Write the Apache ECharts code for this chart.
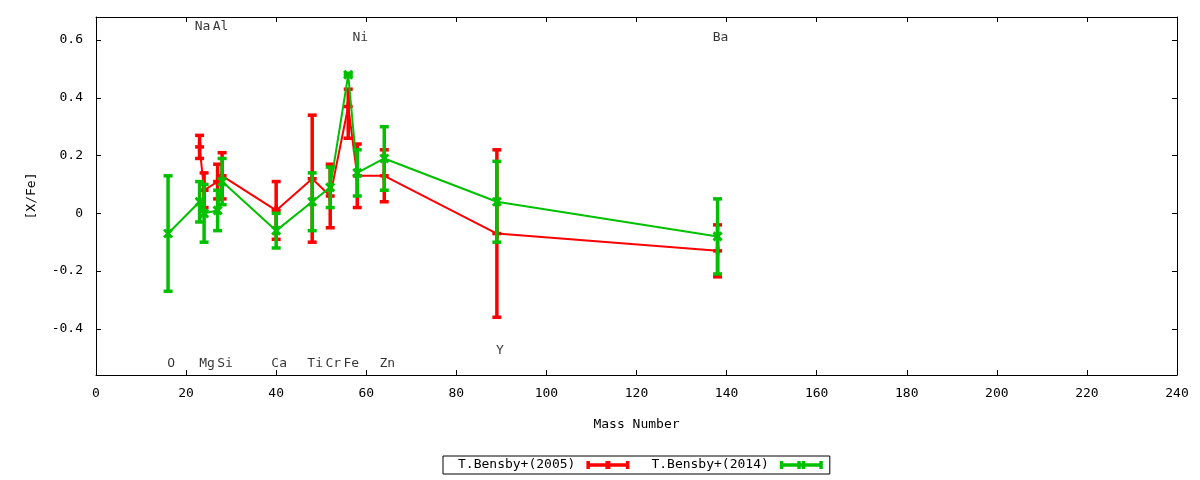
<!DOCTYPE html>
<html><head><meta charset="utf-8">
<script src="https://cdn.jsdelivr.net/npm/echarts@6/dist/echarts.min.js"></script>
<style>html,body{margin:0;padding:0;background:#fff}#c{width:1200px;height:480px}</style>
</head><body><div id="c"></div>
<script>
const FONT = 'DejaVu Sans Mono';

// Axis ticks
const yTickValues = [-0.4, -0.2, 0, 0.2, 0.4, 0.6];

// T.Bensby+(2005)
const mass2005 = [23, 24, 27, 28, 40, 48, 52, 56, 58, 64, 89, 138];
const val2005  = [0.23, 0.08, 0.11, 0.13, 0.01, 0.12, 0.06, 0.37, 0.13, 0.13, -0.07, -0.13];
const low2005  = [0.19, 0.02, 0.05, 0.05, -0.09, -0.10, -0.05, 0.26, 0.02, 0.04, -0.36, -0.22];
const high2005 = [0.27, 0.14, 0.17, 0.21, 0.11, 0.34, 0.17, 0.43, 0.24, 0.22, 0.22, -0.04];

// T.Bensby+(2014)
const mass2014 = [16, 23, 24, 27, 28, 40, 48, 52, 56, 58, 64, 89, 138];
const val2014  = [-0.07, 0.04, 0.00, 0.01, 0.11, -0.06, 0.04, 0.09, 0.48, 0.14, 0.19, 0.04, -0.08];
const low2014  = [-0.27, -0.03, -0.10, -0.06, 0.03, -0.12, -0.06, 0.02, 0.475, 0.06, 0.08, -0.10, -0.21];
const high2014 = [0.13, 0.11, 0.10, 0.08, 0.19, 0.00, 0.14, 0.16, 0.485, 0.22, 0.30, 0.18, 0.05];

// Element labels
const elemNames = ['O', 'Na', 'Mg', 'Al', 'Si', 'Ca', 'Ti', 'Cr', 'Fe', 'Ni', 'Zn', 'Y', 'Ba'];
const elemMass  = [16, 23, 24, 27, 28, 40, 48, 52, 56, 58, 64, 89, 138];
const elemLabelY = [-0.52, 0.645, -0.52, 0.645, -0.52, -0.52, -0.52, -0.52, -0.52, 0.61, -0.52, -0.475, 0.61];

const RED = '#ff0000', GREEN = '#00c000';

function lineData(m, v) { return m.map((x, i) => [x, v[i]]); }
function errData(m, lo, hi, v) { return m.map((x, i) => [x, lo[i], hi[i], v[i]]); }

function makeErr(kind, color) {
  return function (params, api) {
    const x = api.value(0);
    const pLo = api.coord([x, api.value(1)]);
    const pHi = api.coord([x, api.value(2)]);
    const pC = api.coord([x, api.value(3)]);
    const cw = 4.5, lw = 3.5;
    const st = { stroke: color, lineWidth: lw, fill: null };
    const ch = [
      { type: 'line', shape: { x1: pLo[0], y1: pLo[1], x2: pHi[0], y2: pHi[1] }, style: st },
      { type: 'line', shape: { x1: pLo[0] - cw, y1: pLo[1], x2: pLo[0] + cw, y2: pLo[1] }, style: st },
      { type: 'line', shape: { x1: pHi[0] - cw, y1: pHi[1], x2: pHi[0] + cw, y2: pHi[1] }, style: st }
    ];
    if (kind === 'plus') {
      ch.push({ type: 'line', shape: { x1: pC[0] - 4.5, y1: pC[1], x2: pC[0] + 4.5, y2: pC[1] }, style: st });
      ch.push({ type: 'line', shape: { x1: pC[0], y1: pC[1] - 4.5, x2: pC[0], y2: pC[1] + 4.5 }, style: st });
    } else {
      const s2 = { stroke: color, lineWidth: 3, fill: null };
      ch.push({ type: 'line', shape: { x1: pC[0] - 4, y1: pC[1] - 4, x2: pC[0] + 4, y2: pC[1] + 4 }, style: s2 });
      ch.push({ type: 'line', shape: { x1: pC[0] - 4, y1: pC[1] + 4, x2: pC[0] + 4, y2: pC[1] - 4 }, style: s2 });
    }
    return { type: 'group', children: ch };
  };
}

const ICON_RED = 'path://M0,0H3.5V8H0Z M39.5,0H43V8H39.5Z M0,2.25H43V5.75H0Z M19,0H24V8H19Z';
const ICON_GREEN = 'path://M0,0H3.5V8H0Z M39.5,0H43V8H39.5Z M0,2.25H43V5.75H0Z M17.5,0H21V8H17.5Z M22,0H25.5V8H22Z';

const axisTxt = { fontFamily: FONT, fontSize: 13, color: '#000' };
const frameLine = { show: true, onZero: false, lineStyle: { color: '#000', width: 1 } };
const tickStyle = { show: true, inside: true, length: 5, lineStyle: { color: '#000', width: 1 } };
const yFmt = v => (Math.abs(v) < 1e-9 ? '0' : String(+v.toFixed(1)));

const chart = echarts.init(document.getElementById('c'));
chart.setOption({
  animation: false,
  backgroundColor: '#fff',
  grid: { left: 96, top: 17, width: 1081, height: 358, containLabel: false },
  legend: {
    left: 443, top: 456,
    align: 'right',
    itemWidth: 43, itemHeight: 8, itemGap: 22,
    padding: [2.5, 7, 2.5, 15],
    borderColor: '#000', borderWidth: 1, borderRadius: 0,
    symbolKeepAspect: false,
    itemStyle: { borderWidth: 0 },
    textStyle: { fontFamily: FONT, fontSize: 13, color: '#000', padding: [0, 6, 0, 0] },
    data: [
      { name: 'T.Bensby+(2005)', icon: ICON_RED, itemStyle: { color: RED } },
      { name: 'T.Bensby+(2014)', icon: ICON_GREEN, itemStyle: { color: GREEN } }
    ]
  },
  xAxis: [
    {
      type: 'value', min: 0, max: 240, interval: 20, position: 'bottom',
      name: 'Mass Number', nameLocation: 'middle', nameGap: 43, nameTextStyle: axisTxt,
      axisLine: frameLine, axisTick: tickStyle, splitLine: { show: false },
      axisLabel: Object.assign({ margin: 12 }, axisTxt)
    },
    {
      type: 'value', min: 0, max: 240, interval: 20, position: 'top',
      axisLine: frameLine, axisTick: tickStyle, splitLine: { show: false },
      axisLabel: { show: false }
    }
  ],
  yAxis: [
    {
      type: 'value', min: -0.56, max: 0.68, position: 'left',
      name: '[X/Fe]', nameLocation: 'middle', nameGap: 58, nameRotate: 90, nameTextStyle: axisTxt,
      axisLine: frameLine,
      axisTick: Object.assign({ customValues: yTickValues }, tickStyle),
      splitLine: { show: false },
      axisLabel: Object.assign({ margin: 13, customValues: yTickValues, formatter: yFmt }, axisTxt)
    },
    {
      type: 'value', min: -0.56, max: 0.68, position: 'right',
      axisLine: frameLine,
      axisTick: Object.assign({ customValues: yTickValues }, tickStyle),
      splitLine: { show: false },
      axisLabel: { show: false }
    }
  ],
  series: [
    {
      name: 'T.Bensby+(2005)', type: 'line', xAxisIndex: 0, yAxisIndex: 0,
      data: lineData(mass2005, val2005), symbol: 'none', color: RED,
      lineStyle: { color: RED, width: 2 }, z: 2, silent: true
    },
    {
      name: 'T.Bensby+(2005)', type: 'custom', xAxisIndex: 0, yAxisIndex: 0,
      data: errData(mass2005, low2005, high2005, val2005),
      encode: { x: 0, y: [1, 2, 3] }, renderItem: makeErr('plus', RED), z: 3, silent: true
    },
    {
      name: 'T.Bensby+(2014)', type: 'line', xAxisIndex: 0, yAxisIndex: 0,
      data: lineData(mass2014, val2014), symbol: 'none', color: GREEN,
      lineStyle: { color: GREEN, width: 2 }, z: 4, silent: true
    },
    {
      name: 'T.Bensby+(2014)', type: 'custom', xAxisIndex: 0, yAxisIndex: 0,
      data: errData(mass2014, low2014, high2014, val2014),
      encode: { x: 0, y: [1, 2, 3] }, renderItem: makeErr('x', GREEN), z: 5, silent: true
    },
    {
      name: 'labels', type: 'scatter', xAxisIndex: 0, yAxisIndex: 0,
      data: elemMass.map((m, i) => [m, elemLabelY[i], elemNames[i]]),
      symbol: 'circle', symbolSize: 1, itemStyle: { color: 'rgba(0,0,0,0)' },
      label: {
        show: true, position: 'inside', offset: [3, 0],
        formatter: p => p.data[2], fontFamily: FONT, fontSize: 13, color: '#000'
      },
      z: 6, silent: true
    }
  ]
});
</script>
</body></html>
